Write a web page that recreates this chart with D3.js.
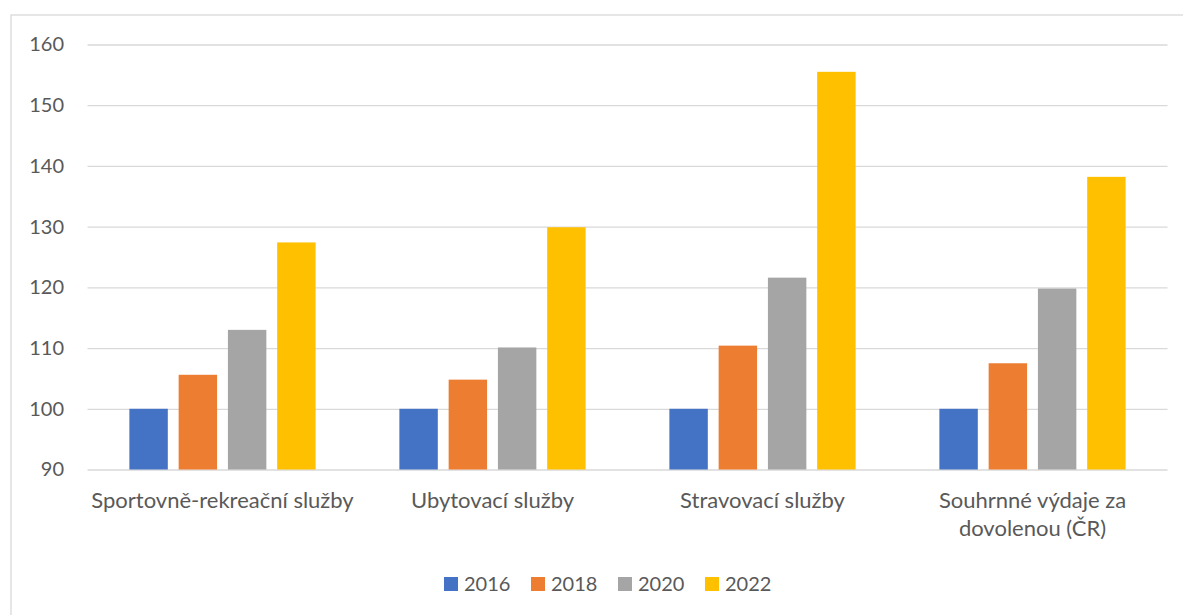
<!DOCTYPE html>
<html>
<head>
<meta charset="utf-8">
<script src="https://cdn.jsdelivr.net/npm/d3@7"></script>
<style>
  body { margin: 0; background: #fff; }
  text { font-family: Lato, "Open Sans", sans-serif; fill: #595959; }
</style>
</head>
<body>
<div id="chart"></div>
<script>
var categories = ['Sportovně-rekreační služby', 'Ubytovací služby', 'Stravovací služby', 'Souhrnné výdaje za dovolenou (ČR)']
var years = ['2016', '2018', '2020', '2022']
var colors = ['#4472c4', '#ed7d31', '#a5a5a5', '#ffc000']
var values2016 = [100, 100, 100, 100]
var values2018 = [105.6, 104.8, 110.4, 107.5]
var values2020 = [113.0, 110.1, 121.6, 119.8]
var values2022 = [127.4, 129.9, 155.5, 138.2]
var yTicks = [90, 100, 110, 120, 130, 140, 150, 160]

var series = [values2016, values2018, values2020, values2022]
var width = 1183
var height = 615
var plotLeft = 87.5
var plotRight = 1167.5
var plotTop = 44.5
var plotBottom = 469.5

var svg = d3.select('#chart').append('svg')
    .attr('width', width)
    .attr('height', height)

// chart frame
svg.append('rect')
    .attr('x', 11)
    .attr('y', 15)
    .attr('width', 1300)
    .attr('height', 700)
    .attr('fill', 'none')
    .attr('stroke', '#d9d9d9')
    .attr('stroke-width', 1.3)

var x0 = d3.scaleBand()
    .domain(categories)
    .range([plotLeft, plotRight])

var x1 = d3.scaleBand()
    .domain(years)
    .range([0, x0.bandwidth()])
    .paddingInner(0.22)
    .paddingOuter(0.85)

var y = d3.scaleLinear()
    .domain([90, 160])
    .range([plotBottom, plotTop])

var grid = svg.append('g')
    .attr('transform', 'translate(' + plotLeft + ',0)')
    .call(d3.axisLeft(y).tickValues(yTicks).tickSize(-(plotRight - plotLeft)).tickFormat(''))
grid.select('.domain').remove()
grid.selectAll('line').attr('stroke', '#d9d9d9').attr('stroke-width', 1.3)

var yAxis = svg.append('g')
    .attr('transform', 'translate(64,0)')
    .call(d3.axisLeft(y).tickValues(yTicks).tickSize(0).tickPadding(0))
yAxis.select('.domain').remove()
yAxis.selectAll('text')
    .attr('font-size', 20)
    .attr('fill', '#595959')
    .style('font-family', 'Lato, sans-serif')

// bars
years.forEach(function(year, j){
    svg.append('g')
        .selectAll('rect')
        .data(series[j])
        .enter()
        .append('rect')
        .attr('x', function(d, i){ return x0(categories[i]) + x1(year) })
        .attr('y', function(d){ return y(d) })
        .attr('width', x1.bandwidth())
        .attr('height', function(d){ return y(90) - y(d) })
        .attr('fill', colors[j])
})

// category labels
var labelLines = [['Sportovně-rekreační služby'], ['Ubytovací služby'], ['Stravovací služby'], ['Souhrnné výdaje za', 'dovolenou (ČR)']]
categories.forEach(function(c, i){
    var t = svg.append('text')
        .attr('text-anchor', 'middle')
        .attr('font-size', 22)
    labelLines[i].forEach(function(line, k){
        t.append('tspan')
            .attr('x', x0(c) + x0.bandwidth() / 2)
            .attr('y', 508 + k * 28)
            .text(line)
    })
})

// legend
var legend = svg.append('g')
var legendX = d3.scalePoint().domain(years).range([444, 705])
years.forEach(function(year, j){
    legend.append('rect')
        .attr('x', legendX(year))
        .attr('y', 577)
        .attr('width', 14)
        .attr('height', 14)
        .attr('fill', colors[j])
    legend.append('text')
        .attr('x', legendX(year) + 20)
        .attr('y', 591)
        .attr('font-size', 20)
        .text(year)
})
</script>
</body>
</html>
